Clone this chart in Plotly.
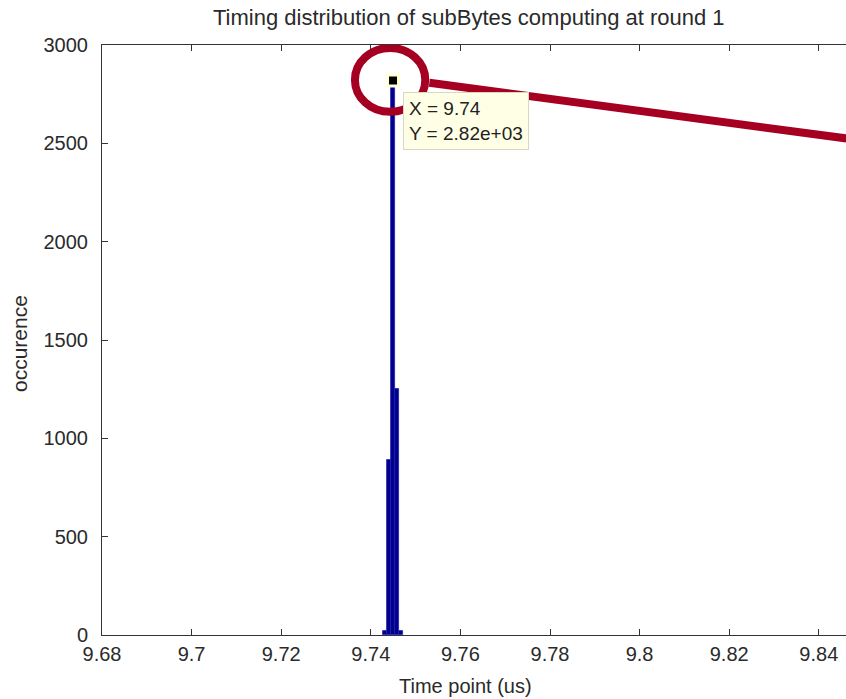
import plotly.graph_objects as go

# ---- data ----
bin_centers = [9.74317, 9.74406, 9.74496, 9.74585, 9.74674]
counts = [20, 890, 2820, 1250, 20]
bin_width = 0.00089
peak_x = 9.74496
peak_y = 2820
x_ticks = [9.68, 9.70, 9.72, 9.74, 9.76, 9.78, 9.80, 9.82, 9.84]
x_tick_text = ["9.68", "9.7", "9.72", "9.74", "9.76", "9.78", "9.8", "9.82", "9.84"]
y_ticks = [0, 500, 1000, 1500, 2000, 2500, 3000]
title_text = "Timing distribution of subBytes computing at round 1"
x_label = "Time point (us)"
y_label = "occurence"
tip_text = "X = 9.74<br>Y = 2.82e+03"

FONT = "Liberation Sans, Arial, Helvetica, sans-serif"
TXT = "#2a2a2a"
RED = "#A50021"

fig = go.Figure()
fig.add_trace(go.Bar(
    x=bin_centers, y=counts, width=[bin_width] * len(counts),
    marker=dict(color="#00008C", line=dict(color="#2020B0", width=0.8)),
    hoverinfo="skip", showlegend=False,
))
# data-tip marker
fig.add_trace(go.Scatter(
    x=[peak_x], y=[peak_y], mode="markers",
    marker=dict(symbol="square", size=11, color="black",
                line=dict(color="#FFFFD8", width=3)),
    hoverinfo="skip", showlegend=False,
))

# data-tip box
fig.add_annotation(
    x=peak_x, y=peak_y, xref="x", yref="y", showarrow=False,
    text=tip_text, align="left", xanchor="left", yanchor="top",
    xshift=10, yshift=-12,
    font=dict(family=FONT, size=19, color="#222"),
    bgcolor="#FFFFE6", bordercolor="#D8D8C0", borderwidth=1, borderpad=5,
)

# red highlight ellipse and pointer line
fig.add_shape(type="circle", xref="x", yref="y",
              x0=peak_x - 0.0085, x1=peak_x + 0.0072,
              y0=peak_y - 160, y1=peak_y + 165,
              line=dict(color=RED, width=8), layer="above")
fig.add_shape(type="line", xref="paper", yref="paper",
              x0=0.440, y0=0.936, x1=1.01, y1=0.840,
              line=dict(color=RED, width=8), layer="above")

# title and axis labels
fig.add_annotation(x=(469 - 102) / 744, y=(699 - 17 - 64) / 590, xref="paper", yref="paper",
                   showarrow=False, text=title_text, xanchor="center", yanchor="middle",
                   font=dict(family=FONT, size=22, color=TXT))
fig.add_annotation(x=(465 - 102) / 744, y=-(686 - 635) / 590, xref="paper", yref="paper",
                   showarrow=False, text=x_label, xanchor="center", yanchor="middle",
                   font=dict(family=FONT, size=20, color=TXT))
fig.add_annotation(x=-(102 - 19) / 744, y=(635 - 344) / 590, xref="paper", yref="paper",
                   showarrow=False, text=y_label, xanchor="center", yanchor="middle",
                   textangle=-90, font=dict(family=FONT, size=21, color=TXT))

fig.update_layout(
    width=846, height=699,
    margin=dict(l=102, r=0, t=45, b=64),
    paper_bgcolor="white", plot_bgcolor="white",
    font=dict(family=FONT, size=20, color=TXT),
    bargap=0,
    xaxis=dict(
        range=[9.68, 9.68 + 744 / 4480], tickvals=x_ticks, ticktext=x_tick_text,
        ticks="inside", ticklen=6, tickcolor="#333", showgrid=False, zeroline=False,
        showline=True, linecolor="#333", linewidth=1, mirror="ticks",
        tickfont=dict(family=FONT, size=20, color=TXT), ticklabelstandoff=1,
    ),
    yaxis=dict(
        range=[0, 3000], tickvals=y_ticks,
        ticks="inside", ticklen=6, tickcolor="#333", showgrid=False, zeroline=False,
        showline=True, linecolor="#333", linewidth=1, mirror=False,
        tickfont=dict(family=FONT, size=20, color=TXT), ticklabelstandoff=9,
    ),
)

fig.write_html("out.html")
